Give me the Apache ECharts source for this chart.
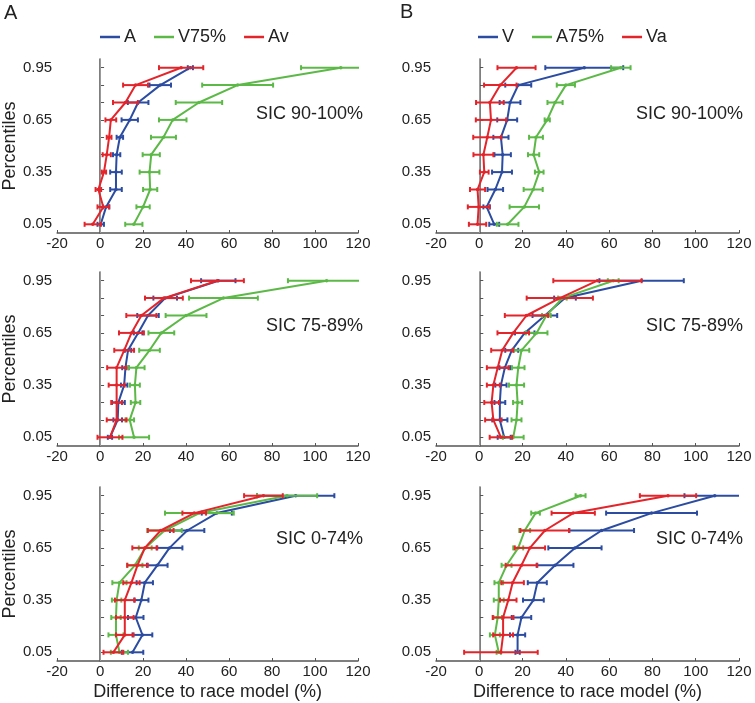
<!DOCTYPE html>
<html>
<head>
<meta charset="utf-8">
<script src="https://cdn.jsdelivr.net/npm/echarts@6/dist/echarts.min.js"></script>
<style>
  html, body { margin: 0; background: #fff; }
  #chart { width: 755px; height: 703px; }
</style>
</head>
<body>
<div id="chart"></div>
<script>
// percentile levels (y) and axis labels
const percentiles = [0.05, 0.15, 0.25, 0.35, 0.45, 0.55, 0.65, 0.75, 0.85, 0.95];
const yLabels = [0.05, 0.35, 0.65, 0.95];

// ---- column A: auditory-dominant ----
// SIC 90-100%
const a90_A = [0.3, 2.8, 7.4, 7.4, 7.7, 9.2, 13.8, 17.7, 28, 42];
const a90_A_err = [1.5, 1.5, 2.7, 2.7, 1.7, 1.5, 3.8, 4.8, 5, 1.2];
const a90_V75 = [15.7, 20, 23.3, 23, 23.8, 29.5, 33.8, 46, 64, 112];
const a90_V75_err = [4, 3.1, 3.3, 4.6, 4, 5.8, 6.4, 10.8, 16.5, 18.5];
const a90_Av = [-3.4, 1.5, -0.8, 1.8, 3.1, 4.2, 5, 11.8, 16.5, 37.7];
const a90_Av_err = [3.8, 2.7, 1.3, 1, 1.9, 1.1, 2.5, 5.8, 5.8, 10.3];
// SIC 75-89%
const a75_A = [4.6, 8.2, 8.5, 11.2, 11.8, 13, 17.7, 22.3, 30.3, 55];
const a75_A_err = [1, 2, 3, 1.5, 1.5, 1.5, 2, 5, 5.5, 8];
const a75_V75 = [15.8, 13.8, 16.5, 16.2, 16.9, 23, 28.5, 40, 57.4, 105.4];
const a75_V75_err = [7, 2, 2.2, 2.3, 3.8, 4.8, 6, 9.5, 16, 18];
const a75_Av = [4.6, 7.7, 7.7, 7.7, 7.7, 11.2, 14.6, 19.2, 29.7, 54.6];
const a75_Av_err = [5.8, 4.6, 2.5, 3.7, 4.4, 4.6, 5.8, 7, 8.8, 12.3];
// SIC 0-74%
const a0_A = [15.1, 19.7, 16.6, 19.2, 20.8, 26.6, 32.3, 40.5, 54.3, 91];
const a0_A_err = [5, 4.6, 3.6, 3.3, 3.8, 4.8, 6, 8, 7, 18];
const a0_V75 = [9, 7.4, 7.4, 7.7, 9, 16.2, 21, 30, 46.2, 87];
const a0_V75_err = [4, 3.5, 2.2, 2.2, 3.3, 3.5, 3, 8, 16, 14];
const a0_Av = [6.2, 11.5, 11.5, 11.5, 14.6, 17.4, 20.8, 28.2, 43.8, 76];
const a0_Av_err = [4.6, 4.1, 4.1, 4.6, 3.8, 4.8, 5.8, 6, 5.5, 9];

// ---- column B: visual-dominant ----
// SIC 90-100%
const b90_V = [6.9, 3.4, 7.4, 10.5, 10.8, 10, 12.9, 14.2, 18, 48.5];
const b90_V_err = [2.3, 1.5, 3.6, 4.6, 3.8, 3.5, 4.6, 4.8, 6, 18];
const b90_A75 = [13.1, 20.8, 24.9, 27.7, 25.1, 26.2, 31.4, 35, 40, 65.4];
const b90_A75_err = [5, 6.8, 4.4, 2, 2.6, 3.2, 1.2, 3.5, 4.2, 4.5];
const b90_Va = [-0.8, -0.3, -0.8, 2.3, 1.9, 3.7, 5.4, 4.9, 9.7, 17.2];
const b90_Va_err = [4, 5, 3.5, 2, 4.6, 6.5, 7, 6.4, 7.5, 8.8];
// SIC 75-89%
const b75_V = [11.5, 9.5, 9.5, 10, 11.8, 15, 21, 30.3, 39.6, 75];
const b75_V_err = [3, 3.5, 2.5, 2.6, 2.5, 3, 4.5, 5.7, 5, 19.5];
const b75_A75 = [15.7, 17.2, 17.7, 17.2, 18, 19.5, 26.5, 31, 38.4, 61.9];
const b75_A75_err = [4.8, 2.3, 2.1, 3.5, 2.9, 3.6, 5, 2, 2, 2.5];
const b75_Va = [10, 6.5, 5.7, 6.5, 8.5, 10.6, 15.7, 21.8, 37.2, 54.6];
const b75_Va_err = [5.2, 3.8, 3.4, 3, 5, 5.1, 7.3, 10, 15.3, 20.4];
// SIC 0-74%
const b0_V = [17.7, 17.7, 19.5, 25, 26.8, 35, 44.2, 56.5, 79.6, 108.8];
const b0_V_err = [1, 3.5, 4.5, 4.8, 4.4, 8.5, 12.3, 15, 21, 14];
const b0_A75 = [9, 7.2, 8.5, 9, 9, 12.6, 18, 21, 26, 46.8];
const b0_A75_err = [1, 2.3, 2, 2.3, 2, 2.3, 2.3, 2.5, 2, 2.3];
const b0_Va = [10, 11, 11, 13.4, 15.4, 19.5, 23.4, 30.3, 43.4, 87.2];
const b0_Va_err = [17, 4.6, 4.8, 3.8, 5.2, 7.3, 7, 11.3, 10, 13];

const FONT = '"Liberation Sans", Arial, sans-serif';
const TEXT = '#222';
const BLUE = '#2b4ca1';
const GREEN = '#5cb947';
const RED = '#e3252b';

const panels = [
  { col: 0, row: 0, tag: 'SIC 90-100%', lines: [['A', a90_A, a90_A_err, BLUE], ['V75%', a90_V75, a90_V75_err, GREEN], ['Av', a90_Av, a90_Av_err, RED]] },
  { col: 0, row: 1, tag: 'SIC 75-89%', lines: [['A', a75_A, a75_A_err, BLUE], ['V75%', a75_V75, a75_V75_err, GREEN], ['Av', a75_Av, a75_Av_err, RED]] },
  { col: 0, row: 2, tag: 'SIC 0-74%', lines: [['A', a0_A, a0_A_err, BLUE], ['V75%', a0_V75, a0_V75_err, GREEN], ['Av', a0_Av, a0_Av_err, RED]] },
  { col: 1, row: 0, tag: 'SIC 90-100%', lines: [['V', b90_V, b90_V_err, BLUE], ['A75%', b90_A75, b90_A75_err, GREEN], ['Va', b90_Va, b90_Va_err, RED]] },
  { col: 1, row: 1, tag: 'SIC 75-89%', lines: [['V', b75_V, b75_V_err, BLUE], ['A75%', b75_A75, b75_A75_err, GREEN], ['Va', b75_Va, b75_Va_err, RED]] },
  { col: 1, row: 2, tag: 'SIC 0-74%', lines: [['V', b0_V, b0_V_err, BLUE], ['A75%', b0_A75, b0_A75_err, GREEN], ['Va', b0_Va, b0_Va_err, RED]] }
];

const gridLeft = [55, 436];
const gridTop = [59, 272, 487];
const gridW = 303;
const gridH = 174;

// horizontal error bar with small end caps
function errorBar(params, api) {
  const x = api.value(0);
  const y = api.value(1);
  const e = api.value(2);
  const lo = api.coord([x - e, y]);
  const hi = api.coord([x + e, y]);
  const style = { stroke: api.visual('color'), lineWidth: 2 };
  const cap = 2.5;
  return {
    type: 'group',
    children: [
      { type: 'line', shape: { x1: lo[0], y1: lo[1], x2: hi[0], y2: hi[1] }, style: style },
      { type: 'line', shape: { x1: lo[0], y1: lo[1] - cap, x2: lo[0], y2: lo[1] + cap }, style: style },
      { type: 'line', shape: { x1: hi[0], y1: hi[1] - cap, x2: hi[0], y2: hi[1] + cap }, style: style }
    ]
  };
}

const grid = [], xAxis = [], yAxis = [], series = [], graphic = [];

panels.forEach((p, i) => {
  grid.push({ left: gridLeft[p.col], top: gridTop[p.row], width: gridW, height: gridH });
  xAxis.push({
    type: 'value', gridIndex: i, min: -20, max: 120, interval: 20,
    axisLine: { show: true, lineStyle: { color: '#555', width: 1.5 } },
    axisTick: { show: true, inside: true, length: 3, lineStyle: { color: '#555' } },
    axisLabel: { color: TEXT, fontSize: 15, fontFamily: FONT, margin: 3 },
    splitLine: { show: false },
    name: p.row === 2 ? 'Difference to race model (%)' : '',
    nameLocation: 'middle', nameGap: 22,
    nameTextStyle: { color: TEXT, fontSize: 18, fontFamily: FONT }
  });
  yAxis.push({
    type: 'value', gridIndex: i, min: 0, max: 1,
    axisLine: { show: true, lineStyle: { color: '#555', width: 1.5 } },
    axisTick: { show: true, inside: true, length: 4, customValues: percentiles, lineStyle: { color: '#555' } },
    axisLabel: { color: TEXT, fontSize: 15, fontFamily: FONT, margin: 5, customValues: yLabels,
      formatter: v => Number(v).toFixed(2) },
    splitLine: { show: false },
    name: p.col === 0 ? 'Percentiles' : '',
    nameLocation: 'middle', nameGap: 36,
    nameTextStyle: { color: TEXT, fontSize: 18, fontFamily: FONT }
  });

  p.lines.forEach(([name, mean, err, color], k) => {
    series.push({
      name: name, type: 'line', xAxisIndex: i, yAxisIndex: i,
      data: mean.map((v, j) => [v, percentiles[j]]),
      symbol: 'circle', symbolSize: 3.5,
      lineStyle: { color: color, width: 2 },
      itemStyle: { color: color },
      z: 3 + k,
      markLine: k === 0 ? {
        silent: true, symbol: 'none', label: { show: false },
        lineStyle: { color: '#9a9a9a', width: 1, type: 'solid' },
        data: [{ xAxis: 0 }]
      } : undefined
    });
    series.push({
      name: name, type: 'custom', xAxisIndex: i, yAxisIndex: i,
      renderItem: errorBar, clip: true,
      itemStyle: { color: color },
      encode: { x: 0, y: 1 },
      data: mean.map((v, j) => [v, percentiles[j], err[j]]),
      z: 3 + k
    });
  });

  graphic.push({
    type: 'text', right: p.col === 0 ? 755 - 363 : 755 - 743,
    top: gridTop[p.row] + [56, 55, 53][p.row] - 10,
    style: { text: p.tag, fill: TEXT, fontSize: 18, fontFamily: FONT }
  });
});

graphic.push({ type: 'text', left: 4, top: 3, style: { text: 'A', fill: TEXT, fontSize: 20, fontFamily: FONT } });
graphic.push({ type: 'text', left: 400, top: 2, style: { text: 'B', fill: TEXT, fontSize: 20, fontFamily: FONT } });

function legendFor(names, colors, left) {
  return {
    left: left, top: 28, padding: 0, itemGap: 18,
    icon: 'rect', itemWidth: 20, itemHeight: 2.5,
    textStyle: { color: TEXT, fontSize: 18, fontFamily: FONT, padding: [0, 0, 0, -1] },
    data: names.map((n, j) => ({ name: n, itemStyle: { color: colors[j] } }))
  };
}

const option = {
  animation: false,
  backgroundColor: '#fff',
  grid: grid,
  xAxis: xAxis,
  yAxis: yAxis,
  legend: [
    legendFor(['A', 'V75%', 'Av'], [BLUE, GREEN, RED], 100),
    legendFor(['V', 'A75%', 'Va'], [BLUE, GREEN, RED], 478)
  ],
  graphic: graphic,
  series: series
};

const chart = echarts.init(document.getElementById('chart'));
chart.setOption(option);
</script>
</body>
</html>
